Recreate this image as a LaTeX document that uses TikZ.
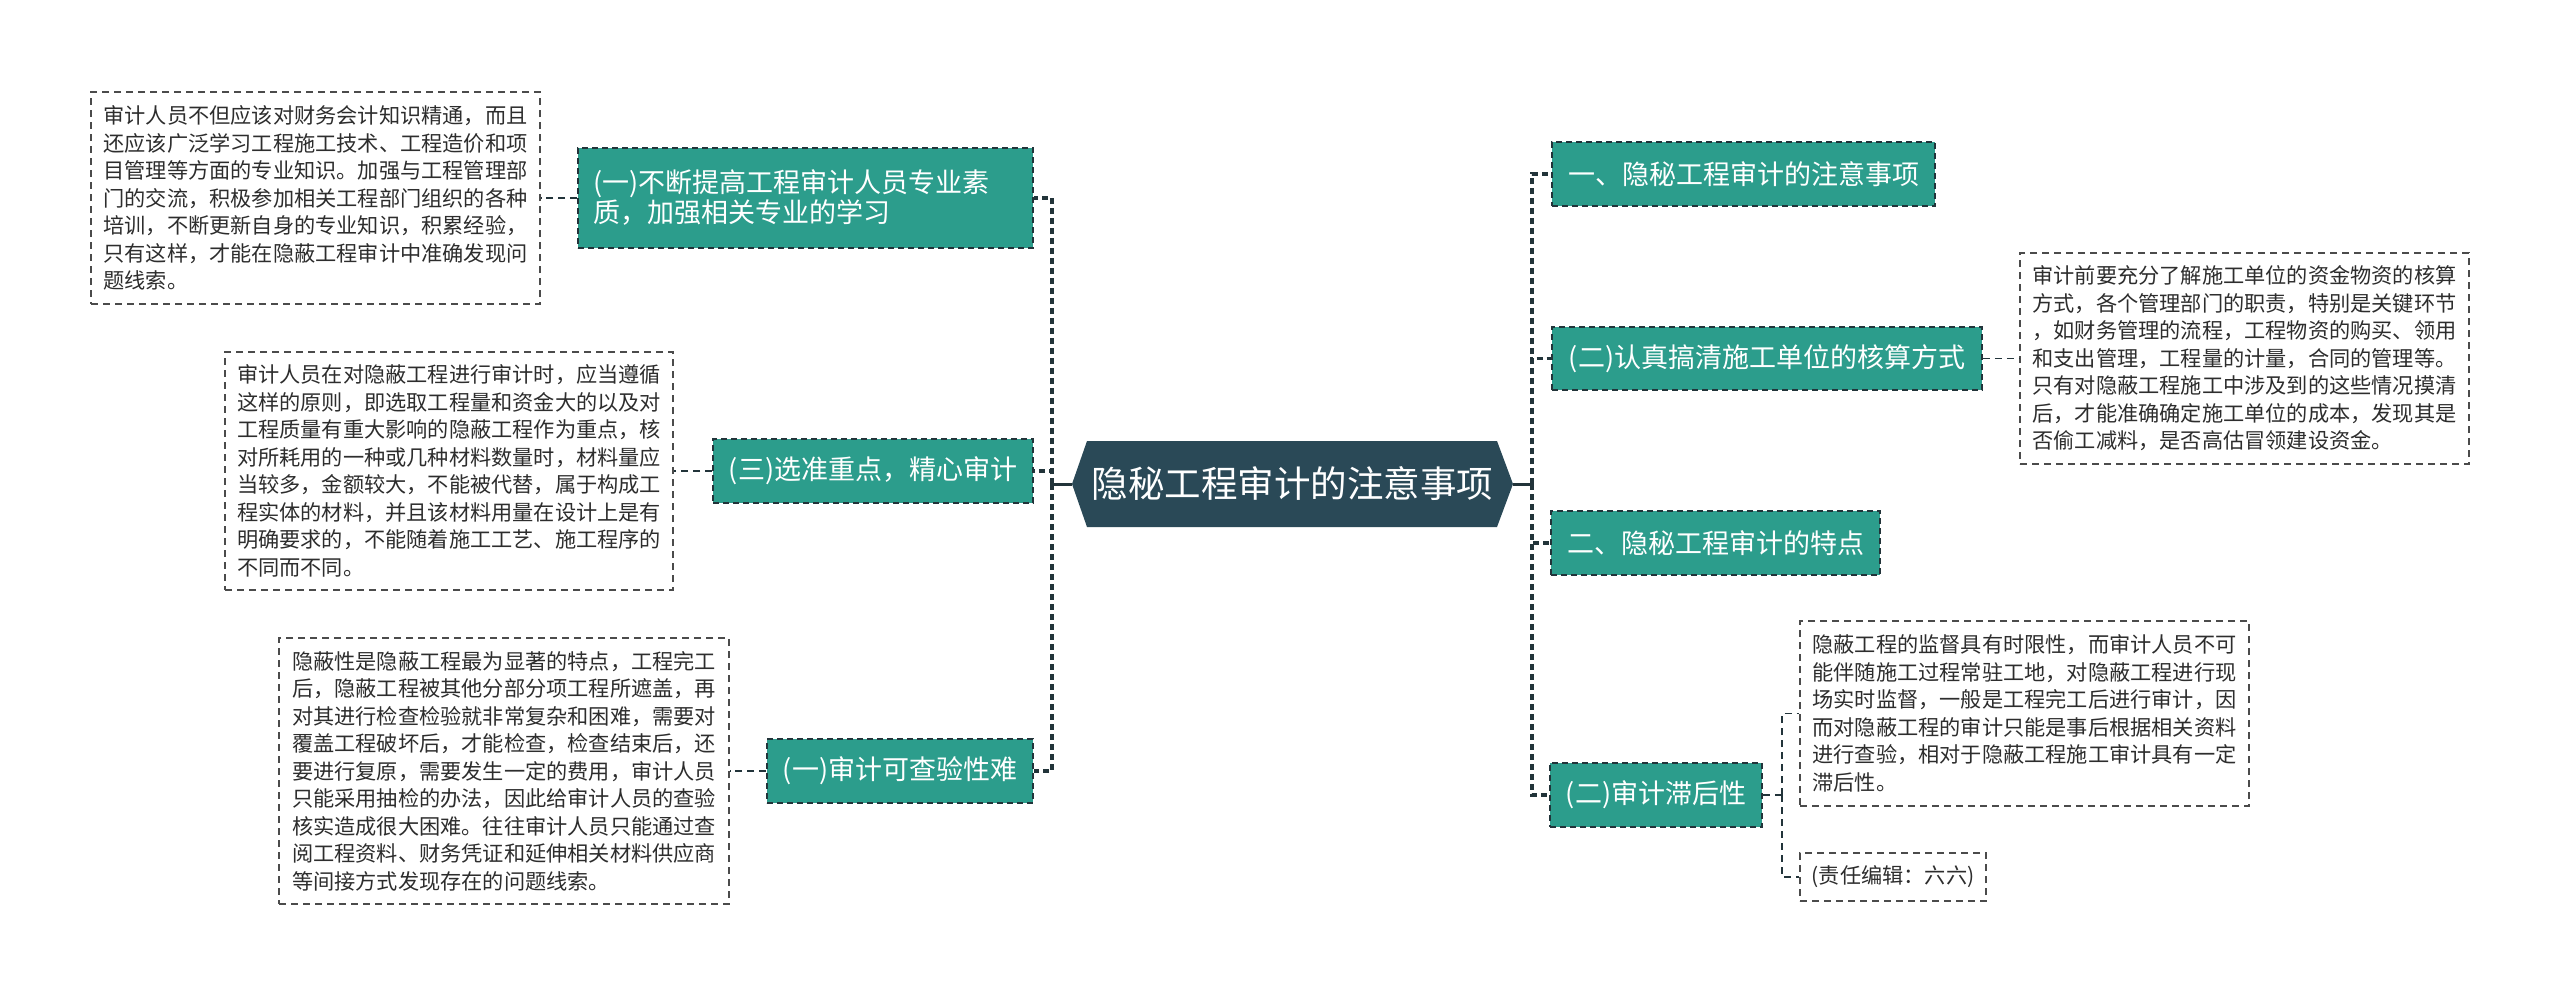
\documentclass[tikz,border=0pt]{standalone}
\usepackage{fontspec}
\newfontfamily\cjk{Noto Sans CJK SC}
\definecolor{tealfill}{RGB}{44,157,140}
\definecolor{darkc}{RGB}{42,73,87}
\definecolor{edgec}{RGB}{34,52,58}
\definecolor{txtc}{RGB}{45,45,45}
\definecolor{bordg}{RGB}{75,75,75}
\begin{document}
\begin{tikzpicture}[x=1pt,y=-1pt,
  topicbox/.style={draw=edgec, line width=1.7pt, dash pattern=on 6pt off 4pt, fill=tealfill, text=white,
    font=\cjk\fontsize{27}{30}\selectfont, align=left, inner sep=0pt, minimum height=64pt},
  detailbox/.style={draw=bordg, line width=1.5pt, dash pattern=on 7pt off 5pt, fill=white, text=txtc,
    font=\cjk\fontsize{21.2}{27.5}\selectfont, align=left, inner sep=0pt},
  centralnode/.style={text=white, font=\cjk\fontsize{36.5}{40}\selectfont, inner sep=0pt,
    minimum width=441pt, minimum height=86pt},
  link/.style={draw=edgec, line width=1.6pt, dash pattern=on 7pt off 5pt},
  spine/.style={draw=edgec, line width=3.4pt, dash pattern=on 6pt off 4pt},
  stub/.style={draw=edgec, line width=3pt}
]
\fill[white] (0,0) rectangle (2560,997);
\useasboundingbox (0,0) rectangle (2560,997);

% central hexagon
\fill[darkc] (1072,484) -- (1087,441) -- (1497,441) -- (1513,484) -- (1497,527) -- (1087,527) -- cycle;
\node[centralnode] (c) at (1292.5,484) {隐秘工程审计的注意事项};

\coordinate (lhub) at (1052,484);
\coordinate (rhub) at (1532,484);
\coordinate (rhub2) at (1782,795);

% left topics
\node[topicbox, text width=425pt, inner xsep=15pt, minimum height=100pt] (b1) at (805.5,198)
  {(一)不断提高工程审计人员专业素\\质，加强相关专业的学习};
\node[topicbox, minimum width=320pt] (b3) at (873,471) {(三)选准重点，精心审计};
\node[topicbox, minimum width=266pt] (b4) at (900,771) {(一)审计可查验性难};

% left details
\node[detailbox, minimum width=449pt, minimum height=212pt] (d1) at (315.5,198)
  {审计人员不但应该对财务会计知识精通，而且\\
   还应该广泛学习工程施工技术、工程造价和项\\
   目管理等方面的专业知识。加强与工程管理部\\
   门的交流，积极参加相关工程部门组织的各种\\
   培训，不断更新自身的专业知识，积累经验，\\
   只有这样，才能在隐蔽工程审计中准确发现问\\
   题线索。};
\node[detailbox, minimum width=448pt, minimum height=238pt] (d3) at (449,471)
  {审计人员在对隐蔽工程进行审计时，应当遵循\\
   这样的原则，即选取工程量和资金大的以及对\\
   工程质量有重大影响的隐蔽工程作为重点，核\\
   对所耗用的一种或几种材料数量时，材料量应\\
   当较多，金额较大，不能被代替，属于构成工\\
   程实体的材料，并且该材料用量在设计上是有\\
   明确要求的，不能随着施工工艺、施工程序的\\
   不同而不同。};
\node[detailbox, minimum width=450pt, minimum height=266pt] (d4) at (504,771)
  {隐蔽性是隐蔽工程最为显著的特点，工程完工\\
   后，隐蔽工程被其他分部分项工程所遮盖，再\\
   对其进行检查检验就非常复杂和困难，需要对\\
   覆盖工程破坏后，才能检查，检查结束后，还\\
   要进行复原，需要发生一定的费用，审计人员\\
   只能采用抽检的办法，因此给审计人员的查验\\
   核实造成很大困难。往往审计人员只能通过查\\
   阅工程资料、财务凭证和延伸相关材料供应商\\
   等间接方式发现存在的问题线索。};

% right topics
\node[topicbox, minimum width=383pt] (r1) at (1743.5,174) {一、隐秘工程审计的注意事项};
\node[topicbox, minimum width=430pt, minimum height=63pt] (r2) at (1767,358.5) {(二)认真搞清施工单位的核算方式};
\node[topicbox, minimum width=329pt] (r3) at (1715.5,543) {二、隐秘工程审计的特点};
\node[topicbox, minimum width=212pt] (r4) at (1656,795) {(二)审计滞后性};

% right details
\node[detailbox, minimum width=449pt, minimum height=211pt] (rd2) at (2244.5,358.5)
  {审计前要充分了解施工单位的资金物资的核算\\
   方式，各个管理部门的职责，特别是关键环节\\
   ，如财务管理的流程，工程物资的购买、领用\\
   和支出管理，工程量的计量，合同的管理等。\\
   只有对隐蔽工程施工中涉及到的这些情况摸清\\
   后，才能准确确定施工单位的成本，发现其是\\
   否偷工减料，是否高估冒领建设资金。};
\node[detailbox, minimum width=449pt, minimum height=185pt] (rd4a) at (2024.5,713.5)
  {隐蔽工程的监督具有时限性，而审计人员不可\\
   能伴随施工过程常驻工地，对隐蔽工程进行现\\
   场实时监督，一般是工程完工后进行审计，因\\
   而对隐蔽工程的审计只能是事后根据相关资料\\
   进行查验，相对于隐蔽工程施工审计具有一定\\
   滞后性。};
\node[detailbox, minimum width=186pt, minimum height=48pt] (rd4b) at (1893,877) {(责任编辑：六六)};

% connectors
\draw[stub] (c.west) -- (lhub);
\draw[stub] (c.east) -- (rhub);
\draw[spine] (lhub) |- (b1.east);
\draw[spine] (lhub) |- (b3.east);
\draw[spine] (lhub) |- (b4.east);
\draw[spine] (rhub) |- (r1.west);
\draw[spine] (rhub) |- (r2.west);
\draw[spine] (rhub) |- (r3.west);
\draw[spine] (rhub) |- (r4.west);

\draw[link] (b1.west) -- (d1.east);
\draw[link] (b3.west) -- (d3.east);
\draw[link] (b4.west) -- (d4.east);
\draw[link] (r2.east) -- (rd2.west);
\draw[link] (r4.east) -- (rhub2);
\draw[link] (rhub2) |- (rd4a.west);
\draw[link] (rhub2) |- (rd4b.west);
\end{tikzpicture}
\end{document}
